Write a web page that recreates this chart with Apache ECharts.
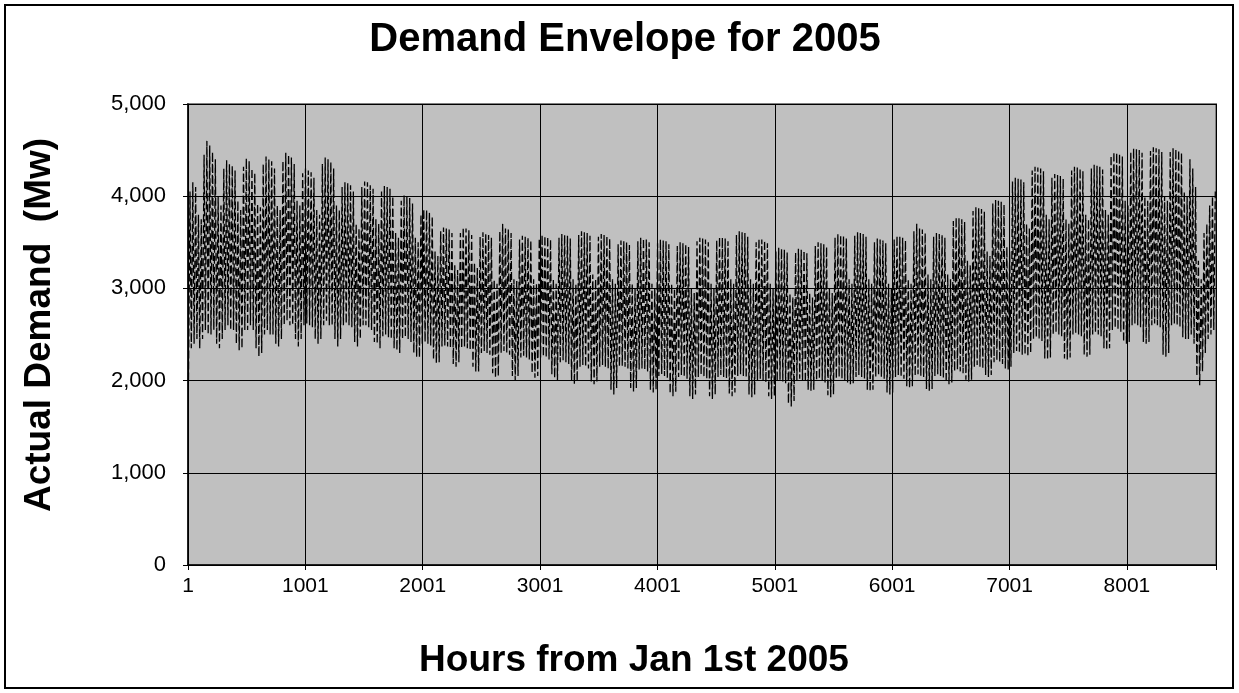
<!DOCTYPE html>
<html>
<head>
<meta charset="utf-8">
<script src="https://cdn.jsdelivr.net/npm/echarts@6/dist/echarts.min.js"></script>
<style>
html,body{margin:0;padding:0;background:#fff;}
#chart{width:1239px;height:693px;}
</style>
</head>
<body>
<div id="chart"></div>
<script>
// Daily peak (afternoon/evening) demand, MW – one row per week
const dayPeak = [
  4050, 4150, 4100, 3800, 3750,
  4450, 4600, 4550, 4480, 4400, 3990, 3900,
  4300, 4390, 4350, 4330, 4280, 3950, 3850,
  4320, 4410, 4380, 4300, 4250, 3920, 3880,
  4350, 4430, 4400, 4380, 4300, 3900, 3850,
  4380, 4470, 4450, 4420, 4350, 3950, 3900,
  4250, 4300, 4280, 4260, 4200, 3850, 3800,
  4350, 4420, 4400, 4370, 4300, 3900, 3850,
  4100, 4150, 4140, 4120, 4050, 3700, 3650,
  4100, 4160, 4150, 4120, 4080, 3750, 3700,
  4050, 4110, 4100, 4080, 4000, 3600, 3550,
  3950, 4010, 4000, 3980, 3920, 3550, 3500,
  3800, 3860, 3850, 3820, 3780, 3400, 3350,
  3620, 3660, 3650, 3640, 3600, 3250, 3200,
  3600, 3660, 3650, 3630, 3580, 3280, 3220,
  3560, 3610, 3600, 3580, 3550, 3100, 3050,
  3620, 3700, 3650, 3640, 3600, 3100, 3080,
  3530, 3570, 3560, 3550, 3520, 3100, 3050,
  3540, 3580, 3570, 3560, 3530, 3100, 3050,
  3550, 3590, 3580, 3570, 3540, 3100, 3050,
  3580, 3620, 3610, 3600, 3570, 3150, 3100,
  3560, 3590, 3580, 3570, 3540, 3100, 3050,
  3480, 3520, 3510, 3500, 3470, 3050, 3000,
  3510, 3550, 3540, 3530, 3500, 3050, 3000,
  3490, 3530, 3520, 3510, 3480, 3050, 3000,
  3460, 3500, 3490, 3480, 3450, 3000, 2950,
  3510, 3550, 3540, 3530, 3500, 3050, 3000,
  3520, 3560, 3550, 3540, 3510, 3100, 3050,
  3580, 3620, 3610, 3600, 3560, 3100, 3050,
  3500, 3540, 3530, 3520, 3490, 3050, 3000,
  3400, 3440, 3430, 3420, 3390, 2950, 2900,
  3390, 3430, 3420, 3410, 3380, 2950, 2900,
  3460, 3500, 3490, 3480, 3450, 3000, 2950,
  3550, 3590, 3580, 3570, 3540, 3100, 3050,
  3570, 3610, 3600, 3590, 3560, 3100, 3050,
  3500, 3540, 3530, 3520, 3490, 3050, 3000,
  3530, 3570, 3560, 3550, 3520, 3100, 3050,
  3620, 3700, 3650, 3640, 3600, 3150, 3100,
  3560, 3600, 3590, 3580, 3550, 3150, 3100,
  3730, 3770, 3760, 3750, 3720, 3300, 3250,
  3840, 3880, 3870, 3860, 3830, 3400, 3350,
  3920, 3960, 3950, 3940, 3910, 3450, 3400,
  4160, 4200, 4190, 4180, 4150, 3700, 3650,
  4280, 4320, 4310, 4300, 4270, 3800, 3750,
  4200, 4240, 4230, 4220, 4190, 3750, 3700,
  4280, 4320, 4310, 4300, 4270, 3800, 3750,
  4300, 4340, 4330, 4320, 4290, 3850, 3800,
  4440, 4480, 4470, 4460, 4430, 3950, 3900,
  4480, 4520, 4510, 4500, 4470, 4000, 3950,
  4490, 4530, 4520, 4510, 4480, 4000, 3950,
  4480, 4520, 4510, 4500, 4470, 4050, 4000,
  4400, 4300, 4100, 3300, 3100, 3600, 3700,
  3900, 4000, 4050
];
// Daily night-time trough demand, MW
const dayTrough = [
  2000, 2350, 2400, 2450, 2350,
  2450, 2550, 2500, 2500, 2550, 2400, 2350,
  2450, 2550, 2600, 2550, 2550, 2400, 2330,
  2350, 2550, 2550, 2600, 2550, 2350, 2260,
  2300, 2500, 2550, 2500, 2500, 2400, 2370,
  2450, 2600, 2650, 2600, 2600, 2450, 2370,
  2450, 2600, 2620, 2600, 2580, 2450, 2400,
  2450, 2600, 2650, 2600, 2600, 2450, 2370,
  2450, 2600, 2620, 2600, 2580, 2420, 2370,
  2450, 2600, 2600, 2580, 2550, 2420, 2400,
  2350, 2480, 2500, 2470, 2450, 2350, 2330,
  2300, 2450, 2470, 2450, 2420, 2300, 2260,
  2250, 2400, 2420, 2400, 2380, 2230, 2190,
  2200, 2370, 2380, 2370, 2350, 2180, 2150,
  2200, 2350, 2370, 2350, 2330, 2150, 2100,
  2100, 2300, 2320, 2300, 2280, 2080, 2030,
  2050, 2300, 2320, 2300, 2280, 2050, 2000,
  2050, 2250, 2270, 2250, 2230, 2080, 2030,
  2050, 2250, 2260, 2250, 2230, 2070, 2030,
  2000, 2200, 2220, 2200, 2180, 2000, 1960,
  1990, 2150, 2170, 2150, 2130, 1990, 1960,
  1990, 2150, 2170, 2150, 2130, 1900, 1850,
  1920, 2150, 2160, 2150, 2130, 1920, 1880,
  1920, 2120, 2130, 2120, 2100, 1900, 1870,
  1900, 2050, 2070, 2050, 2030, 1860, 1830,
  1880, 2040, 2060, 2040, 2020, 1830, 1800,
  1850, 2040, 2060, 2040, 2020, 1830, 1800,
  1850, 2040, 2060, 2040, 2020, 1860, 1830,
  1870, 2050, 2070, 2050, 2030, 1850, 1820,
  1850, 2000, 2020, 2000, 1980, 1830, 1800,
  1830, 1990, 2010, 1990, 1970, 1750, 1720,
  1780, 2000, 2020, 2000, 1980, 1900, 1890,
  1900, 2000, 2020, 2000, 1980, 1840, 1820,
  1850, 2020, 2040, 2020, 2000, 1980, 1960,
  1970, 2040, 2060, 2040, 2020, 1900, 1880,
  1900, 2040, 2060, 2040, 2020, 1870, 1850,
  1870, 2040, 2060, 2040, 2020, 1940, 1920,
  1940, 2050, 2070, 2050, 2030, 1910, 1890,
  1910, 2050, 2070, 2050, 2030, 1980, 1960,
  1980, 2100, 2120, 2100, 2080, 2010, 1990,
  2010, 2150, 2170, 2150, 2130, 2060, 2040,
  2060, 2200, 2220, 2200, 2180, 2130, 2115,
  2150, 2300, 2320, 2300, 2280, 2280, 2260,
  2300, 2450, 2470, 2450, 2430, 2240, 2225,
  2250, 2500, 2520, 2500, 2480, 2240, 2225,
  2250, 2500, 2520, 2500, 2480, 2280, 2260,
  2280, 2500, 2520, 2500, 2480, 2350, 2330,
  2350, 2550, 2570, 2550, 2530, 2420, 2400,
  2420, 2600, 2620, 2600, 2580, 2420, 2400,
  2420, 2600, 2620, 2600, 2580, 2280, 2260,
  2300, 2600, 2620, 2600, 2580, 2470, 2450,
  2450, 2500, 2400, 2050, 1950, 2100, 2300,
  2450, 2500, 2550
];
const troughHour = 4;   // hour of day of the night minimum
const peakHour = 17;    // hour of day of the daily maximum
const yTicks = [0, 1000, 2000, 3000, 4000, 5000];

const points = [];
for (let d = 0; d < dayPeak.length; d++) {
  points.push([d * 24 + troughHour, dayTrough[d]]);
  points.push([d * 24 + peakHour, dayPeak[d]]);
}

const chart = echarts.init(document.getElementById('chart'), null, {renderer: 'canvas'});
const FONT = '"Liberation Sans", Arial, sans-serif';
chart.setOption({
  backgroundColor: '#ffffff',
  animation: false,
  grid: {
    left: 188, right: 23, top: 104, bottom: 128,
    show: true, backgroundColor: '#C0C0C0', borderColor: '#808080', borderWidth: 2
  },
  xAxis: {
    type: 'value', min: 0, max: 8759, interval: 1000,
    axisLine: {show: true, onZero: false, lineStyle: {color: '#000', width: 1.5}},
    axisTick: {show: true, length: 5, lineStyle: {color: '#000'}},
    axisLabel: {
      margin: 11, fontFamily: FONT, fontSize: 21, color: '#000',
      formatter: v => (v > 8000 ? '' : String(v + 1))
    },
    splitLine: {show: true, lineStyle: {color: '#000', width: 1}}
  },
  yAxis: {
    type: 'value', min: yTicks[0], max: yTicks[yTicks.length - 1], interval: 1000,
    axisLine: {show: true, lineStyle: {color: '#000', width: 1.5}},
    axisTick: {show: true, length: 5, lineStyle: {color: '#000'}},
    axisLabel: {
      margin: 22, fontFamily: FONT, fontSize: 22, color: '#000',
      formatter: v => v.toLocaleString('en-US')
    },
    splitLine: {show: true, lineStyle: {color: '#000', width: 1}}
  },
  graphic: [
    {type: 'rect', silent: true, z: -10,
     shape: {x: 5, y: 5, width: 1228, height: 683},
     style: {fill: 'none', stroke: '#000', lineWidth: 2}},
    {type: 'text', silent: true, x: 625, y: 40,
     style: {text: 'Demand Envelope for 2005', fontFamily: FONT, fontSize: 40, fontWeight: 'bold',
             fill: '#000', textAlign: 'center', textVerticalAlign: 'middle'}},
    {type: 'text', silent: true, x: 634, y: 661,
     style: {text: 'Hours from Jan 1st 2005', fontFamily: FONT, fontSize: 37, fontWeight: 'bold',
             fill: '#000', textAlign: 'center', textVerticalAlign: 'middle'}},
    {type: 'text', silent: true, x: 40, y: 325, rotation: Math.PI / 2,
     style: {text: 'Actual Demand  (Mw)', fontFamily: FONT, fontSize: 37, fontWeight: 'bold',
             fill: '#000', textAlign: 'center', textVerticalAlign: 'middle'}}
  ],
  series: [{
    type: 'line',
    data: points,
    showSymbol: false,
    symbol: 'none',
    sampling: null,
    lineStyle: {color: '#000', width: 1.3, type: [8, 3]},
    z: 3
  }]
});
</script>
</body>
</html>
